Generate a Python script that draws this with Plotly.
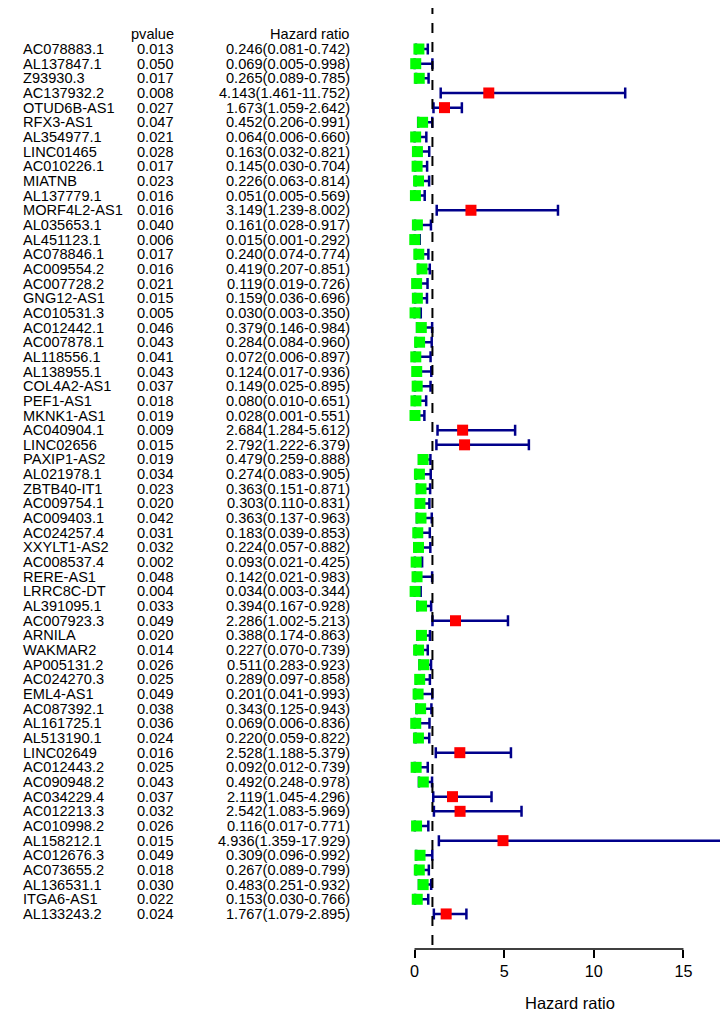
import plotly.graph_objects as go

# ---------------- data ----------------
genes = ["AC078883.1", "AL137847.1", "Z93930.3", "AC137932.2", "OTUD6B-AS1", "RFX3-AS1",
         "AL354977.1", "LINC01465", "AC010226.1", "MIATNB", "AL137779.1", "MORF4L2-AS1",
         "AL035653.1", "AL451123.1", "AC078846.1", "AC009554.2", "AC007728.2", "GNG12-AS1",
         "AC010531.3", "AC012442.1", "AC007878.1", "AL118556.1", "AL138955.1", "COL4A2-AS1",
         "PEF1-AS1", "MKNK1-AS1", "AC040904.1", "LINC02656", "PAXIP1-AS2", "AL021978.1",
         "ZBTB40-IT1", "AC009754.1", "AC009403.1", "AC024257.4", "XXYLT1-AS2", "AC008537.4",
         "RERE-AS1", "LRRC8C-DT", "AL391095.1", "AC007923.3", "ARNILA", "WAKMAR2",
         "AP005131.2", "AC024270.3", "EML4-AS1", "AC087392.1", "AL161725.1", "AL513190.1",
         "LINC02649", "AC012443.2", "AC090948.2", "AC034229.4", "AC012213.3", "AC010998.2",
         "AL158212.1", "AC012676.3", "AC073655.2", "AL136531.1", "ITGA6-AS1", "AL133243.2"]
pvalues = [0.013, 0.050, 0.017, 0.008, 0.027, 0.047, 0.021, 0.028, 0.017, 0.023, 0.016, 0.016,
           0.040, 0.006, 0.017, 0.016, 0.021, 0.015, 0.005, 0.046, 0.043, 0.041, 0.043, 0.037,
           0.018, 0.019, 0.009, 0.015, 0.019, 0.034, 0.023, 0.020, 0.042, 0.031, 0.032, 0.002,
           0.048, 0.004, 0.033, 0.049, 0.020, 0.014, 0.026, 0.025, 0.049, 0.038, 0.036, 0.024,
           0.016, 0.025, 0.043, 0.037, 0.032, 0.026, 0.015, 0.049, 0.018, 0.030, 0.022, 0.024]
hr = [0.246, 0.069, 0.265, 4.143, 1.673, 0.452, 0.064, 0.163, 0.145, 0.226, 0.051, 3.149,
      0.161, 0.015, 0.240, 0.419, 0.119, 0.159, 0.030, 0.379, 0.284, 0.072, 0.124, 0.149,
      0.080, 0.028, 2.684, 2.792, 0.479, 0.274, 0.363, 0.303, 0.363, 0.183, 0.224, 0.093,
      0.142, 0.034, 0.394, 2.286, 0.388, 0.227, 0.511, 0.289, 0.201, 0.343, 0.069, 0.220,
      2.528, 0.092, 0.492, 2.119, 2.542, 0.116, 4.936, 0.309, 0.267, 0.483, 0.153, 1.767]
hr_low = [0.081, 0.005, 0.089, 1.461, 1.059, 0.206, 0.006, 0.032, 0.030, 0.063, 0.005, 1.239,
          0.028, 0.001, 0.074, 0.207, 0.019, 0.036, 0.003, 0.146, 0.084, 0.006, 0.017, 0.025,
          0.010, 0.001, 1.284, 1.222, 0.259, 0.083, 0.151, 0.110, 0.137, 0.039, 0.057, 0.021,
          0.021, 0.003, 0.167, 1.002, 0.174, 0.070, 0.283, 0.097, 0.041, 0.125, 0.006, 0.059,
          1.188, 0.012, 0.248, 1.045, 1.083, 0.017, 1.359, 0.096, 0.089, 0.251, 0.030, 1.079]
hr_high = [0.742, 0.998, 0.785, 11.752, 2.642, 0.991, 0.660, 0.821, 0.704, 0.814, 0.569, 8.002,
           0.917, 0.292, 0.774, 0.851, 0.726, 0.696, 0.350, 0.984, 0.960, 0.897, 0.936, 0.895,
           0.651, 0.551, 5.612, 6.379, 0.888, 0.905, 0.871, 0.831, 0.963, 0.853, 0.882, 0.425,
           0.983, 0.344, 0.928, 5.213, 0.863, 0.739, 0.923, 0.858, 0.993, 0.943, 0.836, 0.822,
           5.379, 0.739, 0.978, 4.296, 5.969, 0.771, 17.929, 0.992, 0.799, 0.932, 0.766, 2.895]
tick_vals = [0, 5, 10, 15]
header_p = "pvalue"
header_hr = "Hazard ratio"
x_title = "Hazard ratio"

# ---------------- layout constants (reference-window pixels) ----------------
WIN_W, WIN_H = 728, 1013
OFF = 8                         # default page margin of the html body
W, H = WIN_W - OFF, WIN_H - OFF  # figure size that fills the visible window
X0_PX = 414.5                   # pixel of HR = 0
PX_PER_UNIT = 17.93
ROW1_PX = 49.0                  # pixel centre of first row
ROW_STEP = 14.66
AXIS_PX = 949.0
PLOT_LEFT_PX = 395.0
FONT = "Liberation Sans, Arial, sans-serif"
TXT = 14.6

def px(xw):          # window x pixel -> paper x
    return (xw - OFF) / W

def py(yw):          # window y pixel -> paper y
    return (H - (yw - OFF)) / H

def row_at(p):
    return 1 + (p - ROW1_PX) / ROW_STEP

n = len(genes)
rows = list(range(1, n + 1))
x_range = [(PLOT_LEFT_PX - X0_PX) / PX_PER_UNIT, (WIN_W - X0_PX) / PX_PER_UNIT]
y_range = [row_at(AXIS_PX), row_at(OFF)]

colors = ["#FF0000" if h > 1 else "#00FF00" for h in hr]

fig = go.Figure()
# confidence intervals
fig.add_trace(go.Scatter(
    x=hr, y=rows, mode="markers", marker=dict(color="rgba(0,0,0,0)", size=1),
    error_x=dict(type="data", symmetric=False,
                 array=[u - h for u, h in zip(hr_high, hr)],
                 arrayminus=[h - l for h, l in zip(hr, hr_low)],
                 color="#00008B", thickness=2.5, width=5.5),
    hoverinfo="skip", showlegend=False))
# reference line at HR = 1
fig.add_trace(go.Scatter(
    x=[1, 1], y=[row_at(4), y_range[0]], mode="lines",
    line=dict(color="black", width=2, dash="10px,9px"),
    hoverinfo="skip", showlegend=False))
# point estimates
fig.add_trace(go.Scatter(
    x=hr, y=rows, mode="markers",
    marker=dict(symbol="square", size=11, color=colors, line=dict(width=0)),
    showlegend=False))

tf = dict(family=FONT, size=TXT, color="black")
ann = []
for r, g, p, h, l, u in zip(rows, genes, pvalues, hr, hr_low, hr_high):
    ann.append(dict(x=px(21), y=r, xref="paper", yref="y", text=g, showarrow=False,
                    xanchor="left", yanchor="middle", font=tf))
    ann.append(dict(x=px(176), y=r, xref="paper", yref="y", text=f"{p:.3f}", showarrow=False,
                    xanchor="right", yanchor="middle", font=tf))
    ann.append(dict(x=px(352), y=r, xref="paper", yref="y", text=f"{h:.3f}({l:.3f}-{u:.3f})",
                    showarrow=False, xanchor="right", yanchor="middle", font=tf))
ann.append(dict(x=px(176), y=0, xref="paper", yref="y", text=header_p, showarrow=False,
                xanchor="right", yanchor="middle", font=tf))
ann.append(dict(x=px(352), y=0, xref="paper", yref="y", text=header_hr, showarrow=False,
                xanchor="right", yanchor="middle", font=tf))
ann.append(dict(x=px(570), y=py(1003), xref="paper", yref="paper", text=x_title,
                showarrow=False, xanchor="center", yanchor="middle",
                font=dict(family=FONT, size=16.5, color="black")))

fig.update_layout(
    width=W, height=H, margin=dict(l=0, r=0, t=0, b=0),
    paper_bgcolor="white", plot_bgcolor="white",
    showlegend=False, annotations=ann,
    shapes=[dict(type="line", xref="x", yref="y domain", x0=tick_vals[0], x1=tick_vals[-1],
                 y0=0, y1=0, line=dict(color="black", width=1.5))],
    xaxis=dict(domain=[px(PLOT_LEFT_PX), 1], range=x_range, showgrid=False, zeroline=False,
               showline=False, tickmode="array", tickvals=tick_vals, ticks="outside",
               ticklen=8, tickwidth=1.5, tickcolor="black",
               tickfont=dict(family=FONT, size=16.2, color="black")),
    yaxis=dict(domain=[py(AXIS_PX), 1], range=y_range, showgrid=False, zeroline=False,
               showline=False, showticklabels=False, ticks=""),
)
fig.write_html("out.html")
